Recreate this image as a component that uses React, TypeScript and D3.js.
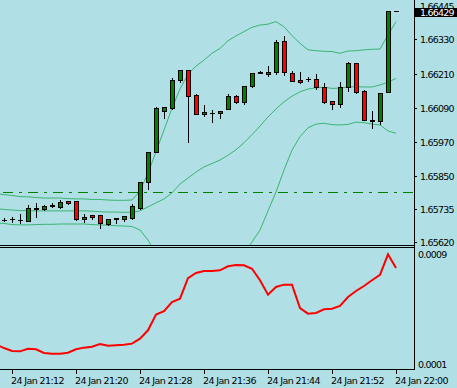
import React from "react";
import * as d3 from "d3";

const W = 457;
const H = 388;

// Candles, one per minute, from 24 Jan 21:11 to 22:00
const opens = [1.65697, 1.65701, 1.65697, 1.65694, 1.65739, 1.65737, 1.65746, 1.65744, 1.65762, 1.65763, 1.65700, 1.65714, 1.65714, 1.65684, 1.65703, 1.65702, 1.65705, 1.65740, 1.65831, 1.65934, 1.66080, 1.66088, 1.66186, 1.66221, 1.66135, 1.66067, 1.66073, 1.66071, 1.66085, 1.66130, 1.66111, 1.66167, 1.66211, 1.66207, 1.66217, 1.66323, 1.66212, 1.66186, 1.66191, 1.66190, 1.66162, 1.66113, 1.66102, 1.66164, 1.66246, 1.66149, 1.66047, 1.66045, 1.66144, 1.66429];
const highs = [1.65704, 1.65708, 1.65718, 1.65750, 1.65757, 1.65751, 1.65756, 1.65767, 1.65763, 1.65763, 1.65717, 1.65714, 1.65714, 1.65700, 1.65703, 1.65712, 1.65752, 1.65830, 1.65936, 1.66092, 1.66092, 1.66194, 1.66221, 1.66221, 1.66139, 1.66100, 1.66082, 1.66079, 1.66138, 1.66134, 1.66166, 1.66212, 1.66219, 1.66236, 1.66326, 1.66342, 1.66219, 1.66215, 1.66198, 1.66208, 1.66176, 1.66113, 1.66179, 1.66250, 1.66246, 1.66152, 1.66079, 1.66141, 1.66429, 1.66429];
const lows = [1.65695, 1.65690, 1.65687, 1.65692, 1.65708, 1.65732, 1.65744, 1.65740, 1.65753, 1.65696, 1.65691, 1.65701, 1.65668, 1.65681, 1.65686, 1.65695, 1.65702, 1.65736, 1.65806, 1.65934, 1.66053, 1.66086, 1.66179, 1.65971, 1.66067, 1.66061, 1.66041, 1.66053, 1.66085, 1.66106, 1.66104, 1.66164, 1.66211, 1.66201, 1.66210, 1.66204, 1.66183, 1.66176, 1.66184, 1.66157, 1.66108, 1.66085, 1.66092, 1.66150, 1.66141, 1.66046, 1.66020, 1.66032, 1.66144, 1.66429];
const closes = [1.65697, 1.65699, 1.65698, 1.65739, 1.65737, 1.65746, 1.65750, 1.65759, 1.65758, 1.65700, 1.65707, 1.65709, 1.65686, 1.65700, 1.65700, 1.65710, 1.65746, 1.65829, 1.65934, 1.66088, 1.66092, 1.66186, 1.66221, 1.66132, 1.66067, 1.66074, 1.66071, 1.66079, 1.66130, 1.66109, 1.66165, 1.66211, 1.66215, 1.66215, 1.66319, 1.66214, 1.66183, 1.66181, 1.66191, 1.66164, 1.66111, 1.66102, 1.66164, 1.66246, 1.66146, 1.66046, 1.66045, 1.66141, 1.66428, 1.66429];

// Line series from 21:10 (first value is the bar just left of the window) to 22:00
const upperBand = [1.65789, 1.65786, 1.65783, 1.65779, 1.65778, 1.65776, 1.65774, 1.65774, 1.65774, 1.65772, 1.65771, 1.65771, 1.65769, 1.65769, 1.65767, 1.65766, 1.65766, 1.65767, 1.65799, 1.65862, 1.65936, 1.66012, 1.66089, 1.66156, 1.66208, 1.66236, 1.66257, 1.66281, 1.66298, 1.66325, 1.66342, 1.66357, 1.66372, 1.66380, 1.66383, 1.66392, 1.66374, 1.66343, 1.66316, 1.66293, 1.66290, 1.66288, 1.66287, 1.66281, 1.66289, 1.66290, 1.66293, 1.66295, 1.66296, 1.66345, 1.66392];
const middleBand = [1.65737, 1.65734, 1.65732, 1.65730, 1.65730, 1.65729, 1.65729, 1.65729, 1.65729, 1.65729, 1.65729, 1.65729, 1.65728, 1.65726, 1.65725, 1.65725, 1.65724, 1.65724, 1.65729, 1.65743, 1.65757, 1.65771, 1.65792, 1.65823, 1.65844, 1.65865, 1.65883, 1.65895, 1.65907, 1.65924, 1.65943, 1.65968, 1.65996, 1.66026, 1.66058, 1.66086, 1.66111, 1.66131, 1.66146, 1.66156, 1.66160, 1.66162, 1.66158, 1.66159, 1.66163, 1.66164, 1.66163, 1.66163, 1.66170, 1.66180, 1.66193];
const lowerBand = [1.65687, 1.65685, 1.65681, 1.65680, 1.65680, 1.65681, 1.65682, 1.65682, 1.65683, 1.65683, 1.65683, 1.65683, 1.65681, 1.65680, 1.65679, 1.65677, 1.65676, 1.65674, 1.65662, 1.65627, 1.65578, 1.65529, 1.65494, 1.65490, 1.65480, 1.65494, 1.65508, 1.65508, 1.65515, 1.65522, 1.65546, 1.65578, 1.65620, 1.65662, 1.65729, 1.65795, 1.65872, 1.65942, 1.65989, 1.66020, 1.66033, 1.66036, 1.66031, 1.66030, 1.66032, 1.66040, 1.66038, 1.66033, 1.66030, 1.66009, 1.66001];
const indicator = [0.000242, 0.000216, 0.000195, 0.000192, 0.000211, 0.000207, 0.000180, 0.000175, 0.000175, 0.000182, 0.000207, 0.000219, 0.000226, 0.000245, 0.000233, 0.000236, 0.000240, 0.000248, 0.000284, 0.000345, 0.000459, 0.000485, 0.000551, 0.000575, 0.000725, 0.000762, 0.000776, 0.000776, 0.000781, 0.000811, 0.000820, 0.000818, 0.000793, 0.000709, 0.000604, 0.000660, 0.000677, 0.000677, 0.000507, 0.000466, 0.000471, 0.000498, 0.000502, 0.000522, 0.000587, 0.000631, 0.000667, 0.000709, 0.000749, 0.000898, 0.000798];

const priceTicks = [1.6633, 1.6621, 1.6609, 1.6597, 1.6585, 1.65735, 1.6562];
const topPriceLabel = 1.66445;
const currentPrice = 1.66429;
const levelPrice = 1.65795;
const subTicks = [0.0009, 0.0001];
const timeTickIndex = [1, 9, 17, 25, 33, 41, 49];
const timeTickLabels = ["24 Jan 21:12", "24 Jan 21:20", "24 Jan 21:28", "24 Jan 21:36", "24 Jan 21:44", "24 Jan 21:52", "24 Jan 22:00"];

const BG = "#B0E0E6";
const BAND = "#3CB371";
const BULL = "#008000";
const BEAR = "#FF0000";
const FONT = "'DejaVu Sans', Verdana, sans-serif";

export default function App() {
  const axisX = 414;
  const x = d3.scaleLinear().domain([0, 49]).range([4, 396]);
  const y = d3.scaleLinear().domain([1.6562, 1.6633]).range([242, 39.3]);
  const ys = d3.scaleLinear().domain([0.0001, 0.0009]).range([364, 254]);

  const lineMain = (vals: number[]) =>
    d3.line<number>().x((_, i) => x(i - 1)).y((v) => y(v))(vals) || "";
  const lineSub = d3.line<number>().x((_, i) => x(i - 1)).y((v) => ys(v))(indicator) || "";

  const candles = opens.map((o, i) => {
    const c = closes[i];
    const cx = Math.round(x(i));
    const yO = Math.round(y(o));
    const yC = Math.round(y(c));
    const yH = Math.round(y(highs[i]));
    const yL = Math.round(y(lows[i]));
    const top = Math.min(yO, yC);
    const bot = Math.max(yO, yC);
    const fill = c > o ? BULL : c < o ? BEAR : "#000";
    return (
      <g key={i}>
        <line x1={cx + 0.5} x2={cx + 0.5} y1={yH} y2={yL + 1} stroke="#000" strokeWidth={1} />
        {bot - top < 1 ? (
          <line x1={cx - 2} x2={cx + 3} y1={top + 0.5} y2={top + 0.5} stroke="#000" strokeWidth={1} />
        ) : (
          <rect x={cx - 1.5} y={top + 0.5} width={4} height={bot - top} fill={fill} stroke="#000" strokeWidth={1} />
        )}
      </g>
    );
  });

  const levelY = Math.round(y(levelPrice)) + 0.5;

  return (
    <svg width={W} height={H} style={{ position: "absolute", left: 0, top: 0, display: "block" }} fontFamily={FONT}>
      <defs>
        <clipPath id="mainClip">
          <rect x={0} y={0} width={axisX} height={245} />
        </clipPath>
        <clipPath id="subClip">
          <rect x={0} y={248} width={axisX} height={121} />
        </clipPath>
      </defs>
      <rect x={0} y={0} width={W} height={H} fill={BG} />

      <g clipPath="url(#mainClip)">
        <line x1={0} x2={axisX} y1={levelY} y2={levelY} stroke={BULL} strokeWidth={1} strokeDasharray="10,6,3,6" strokeDashoffset={-3} />
        <path d={lineMain(upperBand)} fill="none" stroke={BAND} strokeWidth={1} />
        <path d={lineMain(middleBand)} fill="none" stroke={BAND} strokeWidth={1} />
        <path d={lineMain(lowerBand)} fill="none" stroke={BAND} strokeWidth={1} />
        {candles}
      </g>

      <g clipPath="url(#subClip)">
        <path d={lineSub} fill="none" stroke="#FF0000" strokeWidth={2} />
      </g>

      {/* frames */}
      <line x1={axisX + 0.5} x2={axisX + 0.5} y1={0} y2={370} stroke="#000" />
      <line x1={0} x2={axisX + 1} y1={245.5} y2={245.5} stroke="#000" />
      <line x1={0} x2={axisX + 1} y1={247.5} y2={247.5} stroke="#000" />
      <line x1={0} x2={axisX + 1} y1={369.5} y2={369.5} stroke="#000" />

      {/* price axis */}
      <text x={420} y={Math.round(y(topPriceLabel)) + 3.5} fontSize={9.5} letterSpacing={-0.8} fill="#000">
        {topPriceLabel.toFixed(5)}
      </text>
      {priceTicks.map((v) => {
        const py = Math.round(y(v));
        return (
          <g key={v}>
            <line x1={axisX} x2={axisX + 3} y1={py + 0.5} y2={py + 0.5} stroke="#000" />
            <text x={420} y={py + 4} fontSize={9.5} letterSpacing={-0.8} fill="#000">
              {v.toFixed(5)}
            </text>
          </g>
        );
      })}
      <rect x={axisX + 1} y={Math.round(y(currentPrice)) - 3} width={W - axisX - 1} height={9} fill="#000" />
      <text x={420} y={Math.round(y(currentPrice)) + 4.5} fontSize={9.5} letterSpacing={-0.8} fill="#fff">
        {currentPrice.toFixed(5)}
      </text>

      {/* sub window scale */}
      {subTicks.map((v) => (
        <text key={v} x={418} y={Math.round(ys(v)) + 4} fontSize={9.5} letterSpacing={-0.8} fill="#000">
          {v.toFixed(4)}
        </text>
      ))}

      {/* time axis */}
      {timeTickIndex.map((ti, k) => {
        const tx = Math.round(x(ti));
        return (
          <g key={ti}>
            <line x1={tx + 0.5} x2={tx + 0.5} y1={370} y2={374} stroke="#000" />
            <text x={tx - 1} y={384} fontSize={9.5} letterSpacing={-0.6} fill="#000">
              {timeTickLabels[k]}
            </text>
          </g>
        );
      })}
    </svg>
  );
}
